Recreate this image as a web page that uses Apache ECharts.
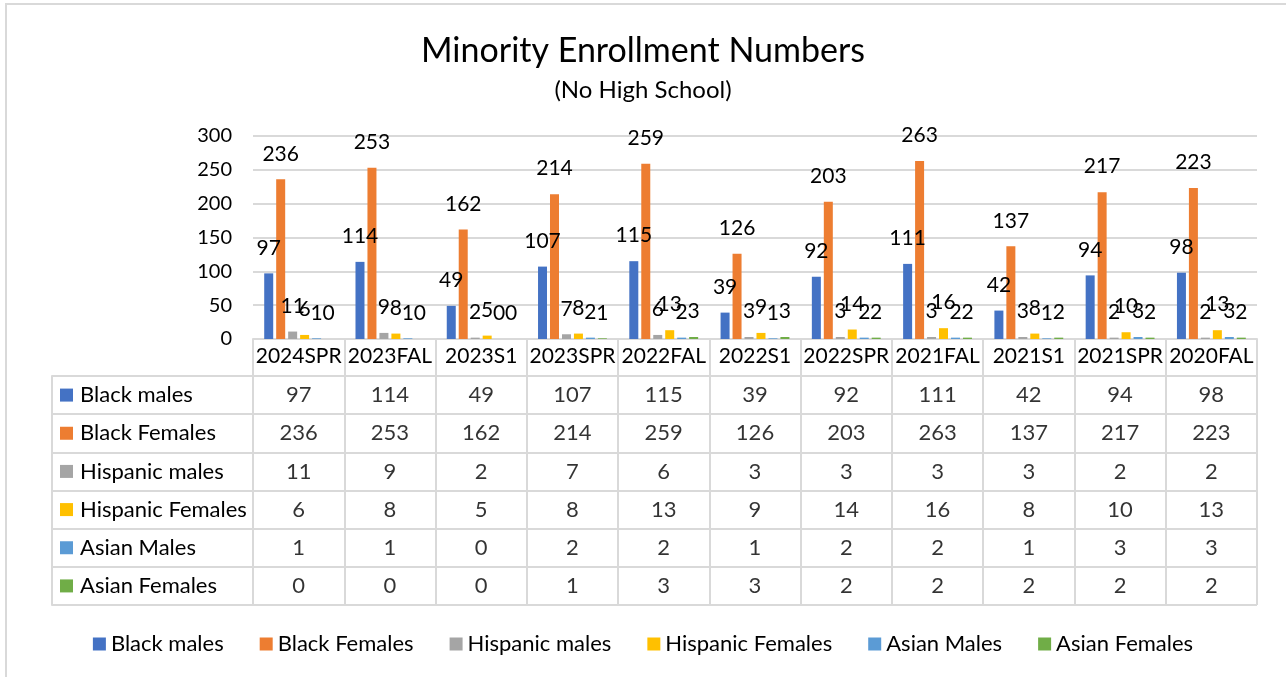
<!DOCTYPE html>
<html>
<head>
<meta charset="utf-8">
<title>Minority Enrollment Numbers</title>
<script src="https://cdn.jsdelivr.net/npm/echarts@6/dist/echarts.min.js"></script>
<style>
  html, body { margin: 0; padding: 0; background: #fff; }
  #chart { width: 1286px; height: 677px; }
</style>
</head>
<body>
<div id="chart"></div>
<script>
var terms = ["2024SPR", "2023FAL", "2023S1", "2023SPR", "2022FAL", "2022S1", "2022SPR", "2021FAL", "2021S1", "2021SPR", "2020FAL"];
var seriesNames = ["Black males", "Black Females", "Hispanic males", "Hispanic Females", "Asian Males", "Asian Females"];
var blackMales = [97, 114, 49, 107, 115, 39, 92, 111, 42, 94, 98];
var blackFemales = [236, 253, 162, 214, 259, 126, 203, 263, 137, 217, 223];
var hispanicMales = [11, 9, 2, 7, 6, 3, 3, 3, 3, 2, 2];
var hispanicFemales = [6, 8, 5, 8, 13, 9, 14, 16, 8, 10, 13];
var asianMales = [1, 1, 0, 2, 2, 1, 2, 2, 1, 3, 3];
var asianFemales = [0, 0, 0, 1, 3, 3, 2, 2, 2, 2, 2];
var yTicks = [0, 50, 100, 150, 200, 250, 300];

var colors = ["#4472C4", "#ED7D31", "#A5A5A5", "#FFC000", "#5B9BD5", "#70AD47"];
var allRows = [blackMales, blackFemales, hispanicMales, hispanicFemales, asianMales, asianFemales];
var font = "Lato, 'Open Sans', sans-serif";
var lineCol = "#d9d9d9";

var chart = echarts.init(document.getElementById("chart"));

// bars
var series = [];
for (var i = 0; i < seriesNames.length; i++) {
  series.push({
    name: seriesNames[i],
    type: "bar",
    xAxisIndex: 0,
    yAxisIndex: 0,
    data: allRows[i],
    barWidth: 9,
    barGap: "33%",
    itemStyle: { color: colors[i] },
    label: {
      show: true,
      position: "top",
      distance: 15,
      color: "#000",
      fontFamily: font,
      fontSize: 21
    },
    animation: false
  });
}

// data table cells
var cells = [];
for (var r = 0; r < allRows.length; r++) {
  for (var c = 0; c < terms.length; c++) {
    cells.push([c, r, allRows[r][c]]);
  }
}
series.push({
  name: "table",
  type: "scatter",
  xAxisIndex: 1,
  yAxisIndex: 1,
  data: cells,
  symbolSize: 0,
  silent: true,
  label: {
    show: true,
    position: "inside",
    color: "#000",
    fontFamily: font,
    fontSize: 22,
    formatter: function (p) { return p.value[2]; }
  },
  animation: false
});

var rich = {};
for (var k = 0; k < colors.length; k++) {
  rich["s" + k] = { width: 13, height: 13, backgroundColor: colors[k] };
}
rich.t = { fontFamily: font, fontSize: 22, color: "#000", padding: [0, 0, 0, 7] };

chart.setOption({
  backgroundColor: "#fff",
  textStyle: { fontFamily: font },
  title: {
    text: "Minority Enrollment Numbers",
    subtext: "(No High School)",
    left: "center",
    top: 29,
    itemGap: 10,
    textStyle: { fontFamily: font, fontSize: 34, fontWeight: "normal", color: "#000" },
    subtextStyle: { fontFamily: font, fontSize: 24, color: "#000" }
  },
  legend: {
    data: seriesNames,
    left: "center",
    top: 628,
    icon: "rect",
    itemWidth: 13,
    itemHeight: 13,
    itemGap: 36,
    textStyle: { fontFamily: font, fontSize: 22, color: "#000" }
  },
  graphic: [{
    type: "rect",
    silent: true,
    shape: { x: 6, y: 4, width: 1400, height: 800 },
    style: { fill: null, stroke: lineCol, lineWidth: 2 }
  }],
  grid: [
    { left: 253, right: 29, top: 136, height: 203 },
    { left: 253, right: 29, top: 376, height: 229 }
  ],
  xAxis: [
    {
      type: "category",
      gridIndex: 0,
      data: terms,
      axisLine: { show: true, lineStyle: { color: lineCol, width: 2 } },
      axisTick: { show: true, length: 37, interval: 0, lineStyle: { color: lineCol, width: 2 } },
      axisLabel: { interval: 0, margin: 7, color: "#000", fontFamily: font, fontSize: 21 }
    },
    {
      type: "category",
      gridIndex: 1,
      data: terms,
      axisLine: { show: false },
      axisTick: { show: false },
      axisLabel: { show: false },
      splitLine: { show: true, interval: 0, lineStyle: { color: lineCol, width: 2 } }
    }
  ],
  yAxis: [
    {
      type: "value",
      gridIndex: 0,
      min: yTicks[0],
      max: yTicks[yTicks.length - 1],
      interval: 50,
      axisLine: { show: false },
      axisTick: { show: false },
      axisLabel: { margin: 21, color: "#000", fontFamily: font, fontSize: 20 },
      splitLine: { lineStyle: { color: lineCol, width: 2 } }
    },
    {
      type: "category",
      gridIndex: 1,
      inverse: true,
      data: seriesNames,
      axisLine: { show: true, lineStyle: { color: lineCol, width: 2 } },
      axisTick: { show: true, length: 201, interval: 0, lineStyle: { color: lineCol, width: 2 } },
      axisLabel: {
        interval: 0,
        margin: 193,
        align: "left",
        formatter: function (v, idx) { return "{s" + idx + "|}{t|" + v + "}"; },
        rich: rich
      },
      splitLine: { show: true, interval: 0, lineStyle: { color: lineCol, width: 2 } }
    },
    {
      type: "category",
      gridIndex: 1,
      inverse: true,
      position: "left",
      offset: 201,
      data: seriesNames,
      axisLine: { show: true, lineStyle: { color: lineCol, width: 2 } },
      axisTick: { show: false },
      axisLabel: { show: false }
    }
  ],
  series: series
});
</script>
</body>
</html>
